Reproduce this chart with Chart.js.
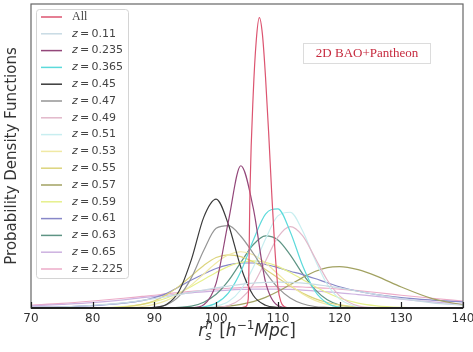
<!DOCTYPE html>
<html>
<head>
<meta charset="utf-8">
<script src="https://cdn.jsdelivr.net/npm/chart.js@4.4.1/dist/chart.umd.min.js"></script>
<style>
  body { margin: 0; background: #fff; }
  canvas { display: block; }
</style>
</head>
<body>
<canvas id="pdf-chart" width="473" height="352"></canvas>
<script>
// valores (escala do eixo y arbitraria, 0..1)
const rsGrid = [70, 75, 80, 85, 88, 90, 92, 94, 96, 98, 100, 102, 104, 106, 108, 110, 112, 114, 116, 118, 120, 123, 126, 130, 135, 140];
const rsAll = [103, 104, 104.8, 105.2, 105.5, 106, 106.5, 107, 107.5, 108, 108.5, 109, 109.5, 110, 110.5, 111, 112];

const pdfAll = [0, 0, 0.005, 0.03, 0.4, 0.7, 0.88, 0.955, 0.9, 0.76, 0.58, 0.38, 0.2, 0.07, 0.02, 0.005, 0];
const pdf011 = [0.001, 0.004, 0.009, 0.017, 0.025, 0.031, 0.037, 0.044, 0.052, 0.059, 0.066, 0.072, 0.078, 0.082, 0.084, 0.085, 0.084, 0.082, 0.078, 0.072, 0.066, 0.055, 0.044, 0.031, 0.017, 0.009];
const pdf0235 = [0, 0, 0, 0, 0, 0, 0, 0, 0.001, 0.011, 0.082, 0.287, 0.468, 0.33, 0.086, 0.008, 0, 0, 0, 0, 0, 0, 0, 0, 0, 0];
const pdf0365 = [0, 0, 0, 0, 0, 0, 0, 0, 0.001, 0.004, 0.016, 0.05, 0.12, 0.222, 0.309, 0.326, 0.251, 0.14, 0.056, 0.016, 0.003, 0, 0, 0, 0, 0];
const pdf045 = [0, 0, 0, 0, 0, 0.002, 0.012, 0.056, 0.16, 0.299, 0.358, 0.274, 0.134, 0.042, 0.009, 0.002, 0, 0, 0, 0, 0, 0, 0, 0, 0, 0];
const pdf047 = [0, 0, 0, 0, 0, 0.002, 0.011, 0.039, 0.1, 0.19, 0.262, 0.271, 0.236, 0.18, 0.118, 0.067, 0.033, 0.014, 0.005, 0.002, 0, 0, 0, 0, 0, 0];
const pdf049 = [0, 0, 0, 0, 0, 0, 0, 0, 0, 0, 0.002, 0.008, 0.03, 0.077, 0.154, 0.233, 0.268, 0.238, 0.166, 0.092, 0.04, 0.007, 0.001, 0, 0, 0];
const pdf051 = [0, 0, 0, 0, 0, 0, 0, 0, 0, 0.001, 0.006, 0.021, 0.06, 0.133, 0.227, 0.303, 0.315, 0.254, 0.16, 0.078, 0.03, 0.004, 0, 0, 0, 0];
const pdf053 = [0, 0, 0, 0.001, 0.005, 0.012, 0.025, 0.046, 0.076, 0.112, 0.148, 0.175, 0.185, 0.175, 0.148, 0.112, 0.076, 0.046, 0.025, 0.012, 0.005, 0.001, 0, 0, 0, 0];
const pdf055 = [0, 0, 0, 0.003, 0.012, 0.024, 0.044, 0.072, 0.106, 0.14, 0.166, 0.175, 0.169, 0.152, 0.127, 0.099, 0.072, 0.049, 0.031, 0.018, 0.01, 0.003, 0.001, 0, 0, 0];
const pdf057 = [0, 0, 0, 0, 0, 0, 0, 0, 0, 0.001, 0.003, 0.006, 0.012, 0.021, 0.035, 0.054, 0.077, 0.1, 0.12, 0.133, 0.136, 0.126, 0.105, 0.069, 0.031, 0.01];
const pdf059 = [0, 0, 0.001, 0.005, 0.012, 0.021, 0.033, 0.05, 0.071, 0.094, 0.117, 0.137, 0.15, 0.155, 0.15, 0.137, 0.117, 0.094, 0.071, 0.05, 0.033, 0.016, 0.007, 0.002, 0, 0];
const pdf061 = [0.002, 0.004, 0.008, 0.016, 0.024, 0.034, 0.048, 0.07, 0.092, 0.112, 0.13, 0.142, 0.148, 0.148, 0.143, 0.133, 0.121, 0.11, 0.097, 0.083, 0.07, 0.055, 0.044, 0.034, 0.026, 0.02];
const pdf063 = [0, 0, 0, 0, 0, 0, 0, 0.002, 0.006, 0.019, 0.045, 0.09, 0.15, 0.208, 0.237, 0.224, 0.175, 0.113, 0.061, 0.027, 0.01, 0.002, 0, 0, 0, 0];
const pdf065 = [0.007, 0.012, 0.018, 0.027, 0.034, 0.038, 0.042, 0.046, 0.05, 0.053, 0.056, 0.059, 0.061, 0.062, 0.062, 0.062, 0.061, 0.059, 0.056, 0.053, 0.05, 0.044, 0.038, 0.029, 0.02, 0.013];
const pdf2225 = [0.009, 0.015, 0.023, 0.032, 0.038, 0.042, 0.047, 0.051, 0.055, 0.058, 0.062, 0.065, 0.067, 0.069, 0.07, 0.07, 0.07, 0.069, 0.067, 0.065, 0.062, 0.057, 0.051, 0.042, 0.032, 0.023];

const seriesLabels = ['All', 'z = 0.11', 'z = 0.235', 'z = 0.365', 'z = 0.45', 'z = 0.47', 'z = 0.49', 'z = 0.51',
  'z = 0.53', 'z = 0.55', 'z = 0.57', 'z = 0.59', 'z = 0.61', 'z = 0.63', 'z = 0.65', 'z = 2.225'];
const seriesValues = [pdfAll, pdf011, pdf0235, pdf0365, pdf045, pdf047, pdf049, pdf051,
  pdf053, pdf055, pdf057, pdf059, pdf061, pdf063, pdf065, pdf2225];
const seriesColors = ['#dc5470', '#c8dbe4', '#93477a', '#5cdadb', '#3a3a3a', '#959595', '#e2b8ca', '#c8eef0',
  '#f0e9a4', '#dcd47c', '#a2a262', '#e6f08c', '#8787c8', '#5e9484', '#cdb1e0', '#ecabc8'];
const xTicks = [70, 80, 90, 100, 110, 120, 130, 140];

function toPoints(xs, ys) {
  return ys.map((y, i) => ({ x: xs[i], y: y }));
}

const datasets = seriesValues.map((vals, i) => ({
  label: seriesLabels[i],
  data: toPoints(i === 0 ? rsAll : rsGrid, vals),
  borderColor: seriesColors[i],
  borderWidth: 1.2,
  pointRadius: 0,
  fill: false,
  cubicInterpolationMode: 'monotone'
}));

// moldura, ticks internos, titulos, legenda e caixa de texto
const extras = {
  id: 'extras',
  afterDraw(chart) {
    const ctx = chart.ctx;
    const a = chart.chartArea;
    const xs = chart.scales.x;
    ctx.save();

    // moldura
    ctx.strokeStyle = '#666';
    ctx.lineWidth = 1.2;
    ctx.strokeRect(a.left, a.top, a.right - a.left, a.bottom - a.top);
    ctx.strokeStyle = '#222';
    ctx.lineWidth = 1.8;
    ctx.beginPath();
    ctx.moveTo(a.left, a.bottom);
    ctx.lineTo(a.right, a.bottom);
    ctx.stroke();

    // ticks para dentro
    ctx.lineWidth = 1.2;
    xTicks.forEach(v => {
      const px = Math.round(xs.getPixelForValue(v)) + 0.5;
      ctx.beginPath();
      ctx.moveTo(px, a.bottom);
      ctx.lineTo(px, a.bottom - 6);
      ctx.stroke();
    });

    // titulo eixo y
    ctx.fillStyle = '#333';
    ctx.font = '15px "DejaVu Sans"';
    ctx.textAlign = 'center';
    ctx.textBaseline = 'middle';
    ctx.translate(12, 156);
    ctx.rotate(-Math.PI / 2);
    ctx.fillText('Probability Density Functions', 0, 0);
    ctx.setTransform(1, 0, 0, 1, 0, 0);

    // titulo eixo x: r_s^h [h^-1 Mpc]
    const big = '17px "DejaVu Sans"';
    const bigIt = 'italic 17px "DejaVu Sans"';
    const small = '12px "DejaVu Sans"';
    const smallIt = 'italic 12px "DejaVu Sans"';
    const parts = [
      { t: 'r', f: bigIt, dy: 0 },
      { t: 'h', f: smallIt, dy: -7, stack: 's' },
      { t: ' [', f: big, dy: 0 },
      { t: 'h', f: bigIt, dy: 0 },
      { t: '\u22121', f: small, dy: -7 },
      { t: 'Mpc', f: bigIt, dy: 0 },
      { t: ']', f: big, dy: 0 }
    ];
    let total = 0;
    parts.forEach(p => {
      ctx.font = p.f;
      p.w = ctx.measureText(p.t).width + (p.stack ? 1 : 0);
      total += p.w;
    });
    let cx = (a.left + a.right) / 2 - total / 2;
    const base = 336;
    ctx.textAlign = 'left';
    ctx.textBaseline = 'alphabetic';
    parts.forEach(p => {
      ctx.font = p.f;
      ctx.fillText(p.t, cx, base + p.dy);
      if (p.stack) ctx.fillText(p.stack, cx, base + 4);
      cx += p.w;
    });

    // legenda
    const lx = 36, ly = 9, lw = 92, lh = 269;
    ctx.fillStyle = 'rgba(255,255,255,0.92)';
    ctx.strokeStyle = '#d4d4d4';
    ctx.lineWidth = 1;
    ctx.beginPath();
    ctx.roundRect(lx + 0.5, ly + 0.5, lw, lh, 3);
    ctx.fill();
    ctx.stroke();
    chart.data.datasets.forEach((ds, i) => {
      const y = 17 + i * 16.8;
      ctx.strokeStyle = ds.borderColor;
      ctx.lineWidth = 1.5;
      ctx.beginPath();
      ctx.moveTo(41, y);
      ctx.lineTo(62, y);
      ctx.stroke();
      ctx.fillStyle = '#444';
      ctx.textBaseline = 'middle';
      if (ds.label.startsWith('z')) {
        ctx.font = 'italic 11px "DejaVu Sans"';
        ctx.fillText('z', 72, y);
        const zw = ctx.measureText('z').width;
        ctx.font = '11px "DejaVu Sans"';
        ctx.fillText(ds.label.slice(1).replace(/ /g, '\u2009'), 72 + zw, y);
      } else {
        ctx.font = '12px "Liberation Serif"';
        ctx.fillText(ds.label, 72, y);
      }
    });

    // caixa 2D BAO+Pantheon
    ctx.fillStyle = '#fff';
    ctx.strokeStyle = '#dcdcdc';
    ctx.lineWidth = 1;
    ctx.fillRect(303.5, 43.5, 127, 20);
    ctx.strokeRect(303.5, 43.5, 127, 20);
    ctx.fillStyle = '#c62a3e';
    ctx.font = '13px "Liberation Serif"';
    ctx.textAlign = 'center';
    ctx.textBaseline = 'middle';
    ctx.fillText('2D BAO+Pantheon', 367, 54);

    ctx.restore();
  }
};

const ctx = document.getElementById('pdf-chart').getContext('2d');
new Chart(ctx, {
  type: 'line',
  data: { datasets: datasets },
  options: {
    responsive: false,
    animation: false,
    layout: { padding: { left: 31, right: 10, top: 4, bottom: 21.6 } },
    plugins: { legend: { display: false }, tooltip: { enabled: false } },
    scales: {
      x: {
        type: 'linear',
        min: 70,
        max: 140,
        grid: { display: false, drawTicks: false, tickLength: 0 },
        border: { display: false },
        ticks: {
          stepSize: 10,
          padding: 4,
          color: '#333',
          font: { family: 'DejaVu Sans', size: 12 },
          maxRotation: 0
        },
        afterFit(scale) { scale.paddingLeft = 0; scale.paddingRight = 0; }
      },
      y: { min: 0, max: 1, display: false }
    }
  },
  plugins: [extras]
});
</script>
</body>
</html>
